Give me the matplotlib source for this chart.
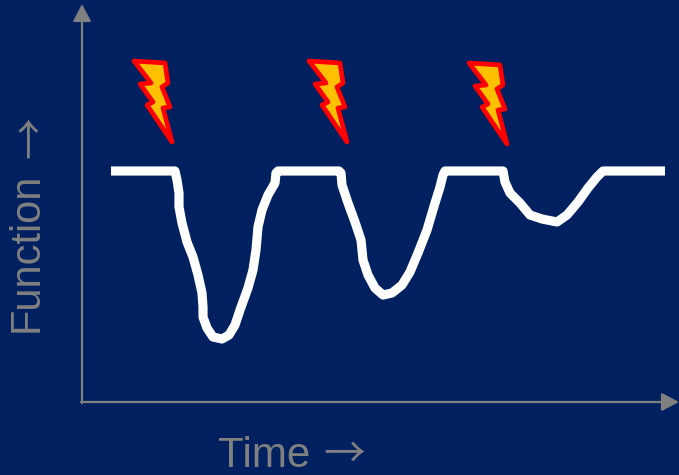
import matplotlib.pyplot as plt
from matplotlib.patches import Polygon

plt.rcParams['font.family'] = ['Liberation Sans', 'DejaVu Sans']

# everything is read in pixels off the picture
curve_x = [111, 175, 177, 179, 179, 182, 187, 193, 198, 202, 203, 203, 207, 213, 222, 229, 235, 240,
           248, 253, 256, 258, 262, 268, 275, 276, 278,
           339, 341, 342, 348, 355, 361, 363, 368, 375, 383, 392, 402, 410, 418, 427, 435, 440, 443, 445,
           503, 505, 510, 520, 530, 542, 557, 567, 578, 588, 597, 603, 665]
curve_y = [171, 171, 180, 193, 207, 223, 242, 257, 275, 293, 307, 317, 328, 337, 339, 335, 325, 310,
           288, 270, 250, 227, 210, 195, 183, 173, 171,
           171, 173, 185, 203, 222, 240, 260, 275, 288, 295, 293, 285, 272, 253, 230, 203, 187, 175, 171,
           171, 182, 193, 203, 215, 219, 222, 215, 202, 188, 177, 171, 171]

bolt_x = [134, 165, 168, 162, 170, 163, 172, 147, 153, 140, 151]
bolt_y = [61, 63, 83, 87, 107, 108, 142, 105, 102, 84, 83]
bolt_dx = [0, 175, 335]
bolt_dy = [0, 0, 2]

background = '#002060'
grey = '#808080'

fig = plt.figure(figsize=(6.79, 4.75), dpi=100, facecolor=background)
ax = fig.add_axes([0, 0, 1, 1])
ax.set_xlim(0, 679)
ax.set_ylim(475, 0)
ax.axis('off')

##Axes
head = '-|>,head_width=0.55,head_length=1.05'
ax.annotate('', xy=(679, 402), xytext=(81, 402),
            arrowprops=dict(arrowstyle=head, color=grey, lw=1.6, shrinkA=0, shrinkB=0))
ax.annotate('', xy=(82, 4), xytext=(82, 403),
            arrowprops=dict(arrowstyle=head, color=grey, lw=1.6, shrinkA=0, shrinkB=0))

##Curve
ax.plot(curve_x, curve_y, color='white', lw=6.6, solid_capstyle='butt', solid_joinstyle='round')

##Lightning bolts
for dx, dy in zip(bolt_dx, bolt_dy):
    pts = [(x + dx, y + dy) for x, y in zip(bolt_x, bolt_y)]
    ax.add_patch(Polygon(pts, closed=True, facecolor='#FFC000', edgecolor='#FF0000', lw=3.4, joinstyle='round'))

##Labels
arrow_font = ['Noto Sans CJK JP', 'DejaVu Sans']
ax.text(218, 467, 'Time', color=grey, fontsize=30.3, ha='left', va='baseline')
ax.text(323, 467, '→', color=grey, fontsize=30, ha='left', va='baseline', family=arrow_font)
ax.text(38, 332, 'Function', color=grey, fontsize=30, rotation=90, ha='left', va='baseline',
        rotation_mode='anchor')
ax.text(43, 158, '→', color=grey, fontsize=30, rotation=90, ha='left', va='baseline',
        rotation_mode='anchor', family=arrow_font)

fig.savefig('out.png', dpi=100, facecolor=background)
